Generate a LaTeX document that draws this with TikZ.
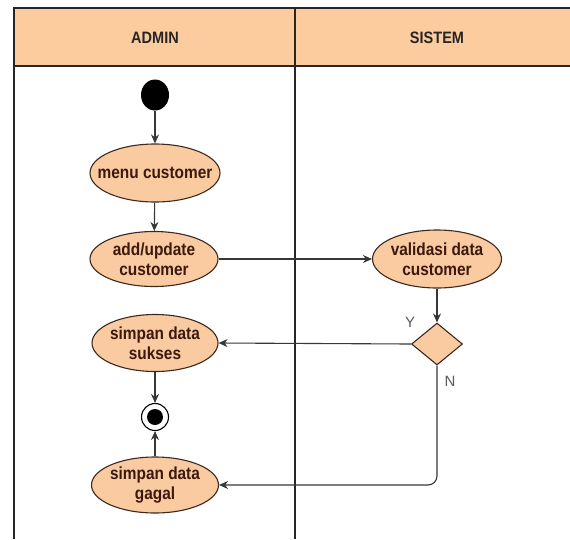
\documentclass[tikz,border=0pt]{standalone}
\usepackage{fontspec}
\setmainfont{Liberation Sans}
\newfontfamily\narrowfont[FakeStretch=0.88]{Liberation Sans}
\usetikzlibrary{shapes.geometric,arrows.meta}
\definecolor{peach}{RGB}{252,204,158}
\definecolor{nodefill}{RGB}{250,202,160}
\definecolor{edgecol}{RGB}{60,40,30}
\definecolor{txtcol}{RGB}{60,25,15}
\definecolor{linecol}{RGB}{55,55,55}
\definecolor{lblcol}{RGB}{90,90,90}
\tikzset{
  act/.style={ellipse, draw=edgecol, line width=1.1pt, fill=nodefill, inner xsep=-40pt, inner ysep=-25pt,
    align=center, text=txtcol, font=\narrowfont\fontsize{17.5}{20}\selectfont\bfseries},
  flow/.style={draw=linecol, line width=1.1pt, -{Stealth[length=9pt,width=8pt]}},
  lane/.style={draw=black!85, line width=1.3pt},
  hdr/.style={font=\narrowfont\fontsize{16.5}{18}\selectfont\bfseries, text=black!85},
  lbl/.style={font=\fontsize{15}{16}\selectfont, text=lblcol}
}
\begin{document}
\begin{tikzpicture}[x=1pt,y=-1pt]
\useasboundingbox (0,0) rectangle (570,539);
% header
\fill[peach] (14,8) rectangle (570,66);
\draw[lane] (570,8) -- (14,8) -- (14,539);
\draw[lane] (14,66) -- (570,66);
\draw[lane] (295,8) -- (295,539);
\node[hdr] (hadmin) at (155,38) {ADMIN};
\node[hdr] (hsistem) at (437,38) {SISTEM};
% nodes
\node[ellipse, fill=black, minimum width=28, minimum height=31, inner sep=0pt] (start) at (155,95) {};
\node[act, minimum width=130, minimum height=58] (menu) at (155,173) {menu customer};
\node[act, minimum width=128, minimum height=55] (add) at (154,259) {add/update\\customer};
\node[act, minimum width=129, minimum height=58] (valid) at (437,259) {validasi data\\customer};
\node[diamond, draw=edgecol, line width=1.1pt, fill=nodefill, minimum width=51, minimum height=42, inner sep=0pt] (dec) at (437,344) {};
\node[act, minimum width=126, minimum height=57] (sukses) at (155,343) {simpan data\\sukses};
\node[circle, draw=black, line width=1.1pt, fill=white, minimum size=27, inner sep=0pt,
  path picture={\fill[black] (path picture bounding box.center) circle (8);}] (end) at (155,417) {};
\node[act, minimum width=127, minimum height=56] (gagal) at (155,485) {simpan data\\gagal};
% labels
\node[lbl] (ly) at (410,322) {Y};
\node[lbl] (ln) at (450,381) {N};
% connectors
\draw[flow] (start) -- (menu);
\draw[flow] (menu) -- (add);
\draw[flow] (add.east) -- (valid.west);
\draw[flow] (valid) -- (dec);
\draw[flow] (dec.west) -- (sukses.east);
\draw[flow, rounded corners=9] (dec.south) |- (gagal.east);
\draw[flow] (sukses) -- (end);
\draw[flow] (gagal) -- (end);
\end{tikzpicture}
\end{document}
